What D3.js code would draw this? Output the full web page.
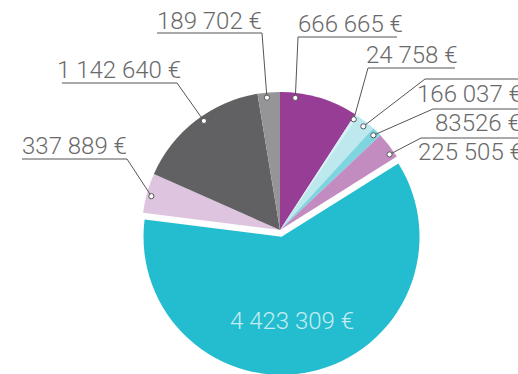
<!DOCTYPE html>
<html>
<head>
<meta charset="utf-8">
<script src="https://cdn.jsdelivr.net/npm/d3@7"></script>
<style>
  html, body { margin: 0; padding: 0; background: #fff; }
  svg { display: block; }
  text { font-family: Roboto, "Open Sans", sans-serif; font-weight: 300; }
</style>
</head>
<body>
<svg id="chart" width="518" height="374"></svg>
<script>
// Amounts per category, clockwise from 12 o'clock
const amounts = [666665, 24758, 166037, 83526, 225505, 4423309, 337889, 1142640, 189702];
const labels = ["666 665 €", "24 758 €", "166 037 €", "83526 €", "225 505 €",
                "4 423 309 €", "337 889 €", "1 142 640 €", "189 702 €"];
const colors = ["#973d96", "#d6f1f5", "#bde8ee", "#7ed4df", "#c28cc0",
                "#24bdcf", "#dfc4e0", "#616163", "#959598"];

const svg = d3.select("#chart");
const cx = 280, cy = 230, radius = 138;
const explodedIndex = 5, explodeBy = 7;

const pie = d3.pie().sort(null).value(d => d)(amounts);
const arc = d3.arc().innerRadius(0).outerRadius(radius);

const g = svg.append("g").attr("transform", `translate(${cx},${cy})`);

g.selectAll("path.slice")
  .data(pie)
  .join("path")
  .attr("class", "slice")
  .attr("fill", (d, i) => colors[i])
  .attr("transform", (d, i) => {
    if (i !== explodedIndex) return null;
    const a = (d.startAngle + d.endAngle) / 2;
    return `translate(${explodeBy * Math.sin(a)},${-explodeBy * Math.cos(a)})`;
  })
  .attr("d", arc);

// Label layout: text position, rule line (y, x1..x2) and the point jx where the leader leaves the rule.
const layout = {
  0: { tx: 298, ty: 32, ly: 37, x1: 298, x2: 397, jx: 298, frac: 0.2 },
  1: { tx: 366, ty: 63, ly: 68, x1: 368, x2: 455, jx: 368, frac: 0.5 },
  2: { tx: 417, ty: 102, ly: 79, x1: 425, x2: 518, jx: 425, frac: 0.55 },
  3: { tx: 435, ty: 131, ly: 109, x1: 433, x2: 518, jx: 433, frac: 0.5 },
  4: { tx: 418, ty: 160, ly: 138, x1: 421, x2: 518, jx: 421, frac: 0.78 },
  6: { tx: 22, ty: 154, ly: 159, x1: 22, x2: 127, jx: 127, frac: 0.45 },
  7: { tx: 57, ty: 78, ly: 83, x1: 62, x2: 177, jx: 177, frac: 0.55 },
  8: { tx: 157, ty: 29, ly: 33, x1: 157, x2: 262, jx: 262, frac: 0.4 }
};

const dotR = radius - 5;
const labelG = svg.append("g");
pie.forEach((d, i) => {
  const L = layout[i];
  if (!L) return;
  const a = d.startAngle + (d.endAngle - d.startAngle) * L.frac;
  const px = cx + dotR * Math.sin(a), py = cy - dotR * Math.cos(a);
  labelG.append("path")
    .attr("d", `M${L.x1},${L.ly}H${L.x2}M${L.jx},${L.ly}L${px},${py}`)
    .attr("fill", "none")
    .attr("stroke", "#555")
    .attr("stroke-width", 1);
  labelG.append("circle")
    .attr("cx", px).attr("cy", py).attr("r", 2.6)
    .attr("fill", "#fff").attr("stroke", "#555").attr("stroke-width", 1);
  labelG.append("text")
    .attr("x", L.tx).attr("y", L.ty)
    .attr("fill", "#6a6a6a")
    .attr("font-size", 24)
    .text(labels[i]);
});

// Value written inside the largest slice
svg.append("text")
  .attr("x", 230).attr("y", 329)
  .attr("fill", "#c4ecf2")
  .attr("font-size", 24)
  .text(labels[explodedIndex]);
</script>
</body>
</html>
